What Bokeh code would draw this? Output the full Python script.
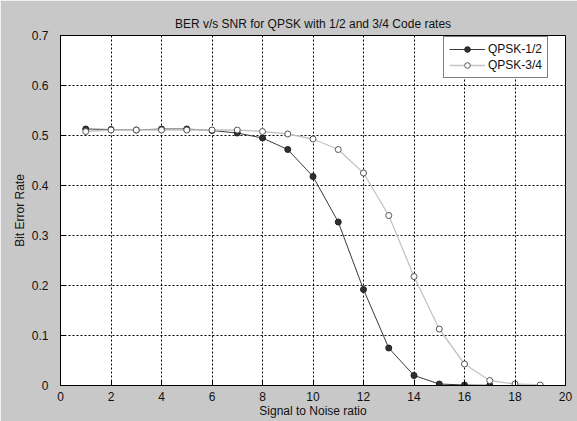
from bokeh.plotting import figure
from bokeh.models import FixedTicker, Legend, LegendItem, Range1d
from bokeh.embed import file_html
from bokeh.resources import INLINE

snr_half = list(range(1, 18))
ber_half = [0.513, 0.512, 0.511, 0.513, 0.513, 0.510, 0.505, 0.495, 0.472,
            0.418, 0.327, 0.192, 0.075, 0.020, 0.003, 0.001, 0.0005]
snr_34 = list(range(1, 20))
ber_34 = [0.508, 0.511, 0.511, 0.511, 0.511, 0.511, 0.511, 0.508, 0.503,
          0.493, 0.472, 0.425, 0.340, 0.218, 0.113, 0.043, 0.010, 0.003, 0.001]
x_ticks = list(range(0, 21, 2))
y_ticks = [0, 0.1, 0.2, 0.3, 0.4, 0.5, 0.6, 0.7]

FONT = "Liberation Sans"
BG = "#c8c8c8"

p = figure(width=577, height=421, output_backend="svg", toolbar_location=None,
           x_range=Range1d(0, 20), y_range=Range1d(0, 0.7),
           min_border_left=60, min_border_right=12, min_border_top=35,
           min_border_bottom=36, background_fill_color="white",
           border_fill_color=BG, outline_line_color="black", outline_line_width=1)

p.title.text = "BER v/s SNR for QPSK with 1/2 and 3/4 Code rates"
p.title.align = "center"
p.title.text_font = FONT
p.title.text_font_size = "12px"
p.title.text_font_style = "normal"
p.title.text_color = "#111111"
p.title.offset = 0

for ax in (p.xaxis[0], p.yaxis[0]):
    ax.major_tick_in = 5
    ax.major_tick_out = 0
    ax.minor_tick_line_color = None
    ax.axis_line_color = "black"
    ax.major_label_text_font = FONT
    ax.major_label_text_font_size = "12px"
    ax.major_label_text_color = "#111111"
    ax.axis_label_text_font = FONT
    ax.axis_label_text_font_size = "12px"
    ax.axis_label_text_font_style = "normal"
    ax.axis_label_text_color = "#111111"

p.xaxis.ticker = FixedTicker(ticks=x_ticks)
p.yaxis.ticker = FixedTicker(ticks=y_ticks)
p.yaxis.major_label_overrides = {0: "0"}
p.xaxis.axis_label = "Signal to Noise ratio"
p.yaxis.axis_label = "Bit Error Rate"
p.xaxis.axis_label_standoff = 0
p.yaxis.axis_label_standoff = 2
p.xaxis.major_label_standoff = 6
p.yaxis.major_label_standoff = 12

p.grid.grid_line_color = "black"
p.grid.grid_line_dash = "2 2"
p.grid.grid_line_width = 1
p.xgrid.ticker = FixedTicker(ticks=x_ticks)
p.ygrid.ticker = FixedTicker(ticks=y_ticks)

l1 = p.line(snr_half, ber_half, line_color="#3a3a3a", line_width=1)
m1 = p.scatter(snr_half, ber_half, size=6, fill_color="#303030", line_color="#202020")
l2 = p.line(snr_34, ber_34, line_color="#c4c4c4", line_width=1.3)
m2 = p.scatter(snr_34, ber_34, size=6, fill_color="white", line_color="#555555")

legend = Legend(items=[LegendItem(label="QPSK-1/2", renderers=[l1, m1]),
                       LegendItem(label="QPSK-3/4", renderers=[l2, m2])],
                location=(383, 307))
legend.label_text_font = FONT
legend.label_text_font_size = "12px"
legend.label_text_color = "#111111"
legend.glyph_width = 36
legend.glyph_height = 14
legend.spacing = 2
legend.padding = 5
legend.margin = 0
legend.label_standoff = 3
legend.border_line_color = "black"
legend.background_fill_color = "white"
legend.background_fill_alpha = 1
p.add_layout(legend, "center")

open("out.html", "w").write(file_html(p, INLINE))
